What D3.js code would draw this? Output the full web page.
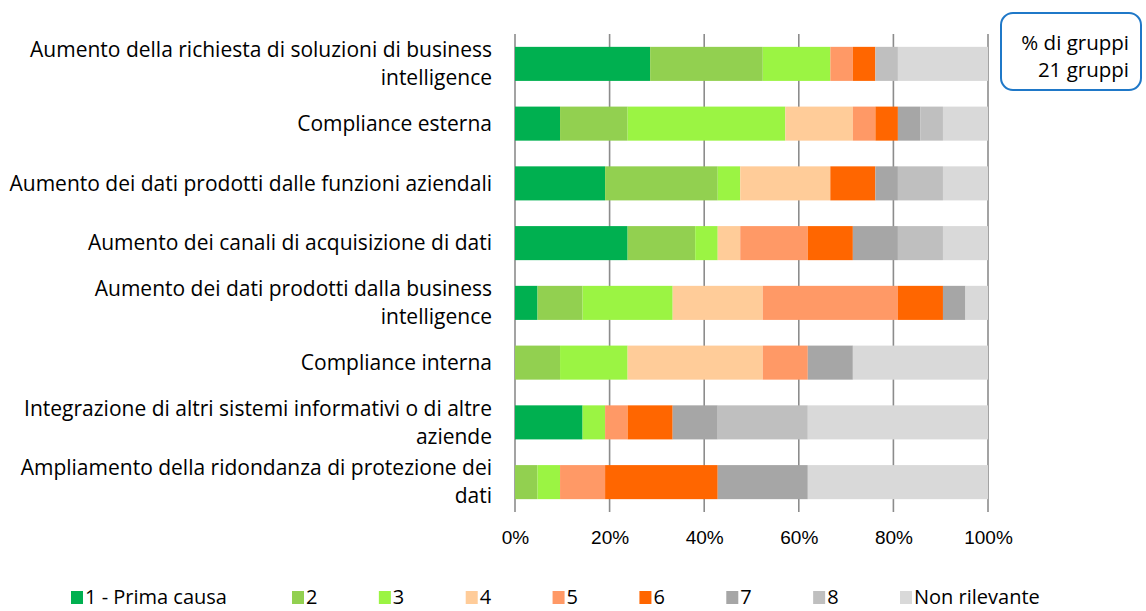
<!DOCTYPE html>
<html>
<head>
<meta charset="utf-8">
<script src="https://cdn.jsdelivr.net/npm/d3@7"></script>
<style>
  body { margin: 0; background: #fff; }
  svg { display: block; font-family: "Open Sans", sans-serif; }
  .cat-label { font-size: 21px; fill: #000; }
  .box-label { font-size: 20.5px; fill: #000; }
  .tick-text { font-size: 19px; fill: #000; }
  .leg-text { font-size: 20px; fill: #000; }
  .grid-line { stroke: #8c8c8c; stroke-width: 1.6; }
</style>
</head>
<body>
<svg id="chart" width="1146" height="611"></svg>
<script>
// category labels, split on the lines the original wraps at
const categories = [
  ['Aumento della richiesta di soluzioni di business', 'intelligence'],
  ['Compliance esterna'],
  ['Aumento dei dati prodotti dalle funzioni aziendali'],
  ['Aumento dei canali di acquisizione di dati'],
  ['Aumento dei dati prodotti dalla business', 'intelligence'],
  ['Compliance interna'],
  ['Integrazione di altri sistemi informativi o di altre', 'aziende'],
  ['Ampliamento della ridondanza di protezione dei', 'dati'],
];

const seriesNames = ['1 - Prima causa', '2', '3', '4', '5', '6', '7', '8', 'Non rilevante'];
const seriesColors = ['#00B050', '#92D050', '#9BF443', '#FFCC99', '#FF9966', '#FF6600', '#A6A6A6', '#BFBFBF', '#D9D9D9'];

// number of groups (out of 21) per rank, one array per category
const counts = [
  [6, 5, 3, 0, 1, 1, 0, 1, 4],
  [2, 3, 7, 3, 1, 1, 1, 1, 2],
  [4, 5, 1, 4, 0, 2, 1, 2, 2],
  [5, 3, 1, 1, 3, 2, 2, 2, 2],
  [1, 2, 4, 4, 6, 2, 1, 0, 1],
  [0, 2, 3, 6, 2, 0, 2, 0, 6],
  [3, 0, 1, 0, 1, 2, 2, 4, 8],
  [0, 1, 1, 0, 2, 5, 4, 0, 8],
];

const xTicks = [0, 0.2, 0.4, 0.6, 0.8, 1];
const boxLines = ['% di gruppi', '21 gruppi'];

// ── SETUP ─────────────────────────────────────────────────────────────────
const svg = d3.select('#chart');
const margin = { top: 34, left: 515, right: 158, bottom: 99 };
const W = 1146, H = 611;
const iW = W - margin.left - margin.right;
const iH = H - margin.top - margin.bottom;

const x = d3.scaleLinear().domain([0, 1]).range([0, iW]);
const y = d3.scaleBand().domain(d3.range(categories.length)).range([0, iH]).paddingInner(0.43).paddingOuter(0.215);

const g = svg.append('g').attr('transform', `translate(${margin.left},${margin.top})`);

// vertical gridlines, behind the bars
g.append('g').selectAll('line')
  .data(xTicks)
  .join('line').attr('class', 'grid-line')
  .attr('x1', d => x(d)).attr('x2', d => x(d))
  .attr('y1', 0).attr('y2', iH);

// stacked shares
const rows = counts.map(r => {
  const total = d3.sum(r);
  let acc = 0;
  return r.map((v, k) => {
    const s = { k, x0: acc / total, x1: (acc + v) / total };
    acc += v;
    return s;
  });
});

// bars
rows.forEach((segs, i) => {
  g.append('g').selectAll('rect')
    .data(segs.filter(s => s.x1 > s.x0))
    .join('rect')
    .attr('x', s => x(s.x0)).attr('width', s => x(s.x1) - x(s.x0))
    .attr('y', y(i)).attr('height', y.bandwidth())
    .attr('fill', s => seriesColors[s.k]);
});

// x axis labels
const xAxis = g.append('g')
  .attr('transform', `translate(0,${iH})`)
  .call(d3.axisBottom(x).tickValues(xTicks).tickFormat(d3.format('.0%')).tickSize(0).tickPadding(19));
xAxis.select('.domain').remove();
xAxis.selectAll('text').attr('class', 'tick-text').attr('font-family', null).attr('font-size', null);

// category labels
categories.forEach((lines, i) => {
  const cy = y(i) + y.bandwidth() / 2;
  const lh = 28;
  const t = g.append('text').attr('class', 'cat-label').attr('text-anchor', 'end');
  lines.forEach((ln, j) => {
    t.append('tspan')
      .attr('x', -23)
      .attr('y', cy + (j - (lines.length - 1) / 2) * lh)
      .attr('dy', '0.35em')
      .text(ln);
  });
});

// info box
svg.append('rect')
  .attr('x', 1001).attr('y', 13).attr('width', 140).attr('height', 77)
  .attr('rx', 12).attr('fill', '#fff')
  .attr('stroke', '#1f78c8').attr('stroke-width', 2);
boxLines.forEach((ln, j) => {
  svg.append('text').attr('class', 'box-label').attr('text-anchor', 'end')
    .attr('x', 1129).attr('y', 43 + j * 27).attr('dy', '0.35em').text(ln);
});

// legend: first entry at the left, the rest evenly spaced
const legX = d3.scaleLinear().domain([1, seriesNames.length - 1]).range([292, 900]);
const leg = svg.append('g').selectAll('g')
  .data(seriesNames)
  .join('g')
  .attr('transform', (d, k) => `translate(${k === 0 ? 71 : legX(k)},597)`);
leg.append('rect').attr('x', 0).attr('y', -6).attr('width', 12).attr('height', 13)
  .attr('fill', (d, k) => seriesColors[k]);
leg.append('text').attr('class', 'leg-text').attr('x', 14).attr('dy', '0.35em').text(d => d);
</script>
</body>
</html>
